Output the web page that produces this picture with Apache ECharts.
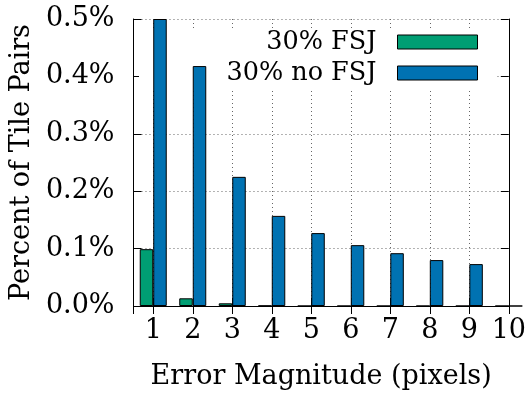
<!DOCTYPE html>
<html>
<head>
<meta charset="utf-8">
<script src="https://cdn.jsdelivr.net/npm/echarts@6/dist/echarts.min.js"></script>
<style>
  html, body { margin: 0; padding: 0; background: #fff; }
  #chart { width: 529px; height: 396px; }
</style>
</head>
<body>
<div id="chart"></div>
<script>
// error magnitude in pixels
const magnitudes = [1, 2, 3, 4, 5, 6, 7, 8, 9, 10];
// percent of tile pairs
const fsj = [0.099, 0.0134, 0.0047, 0.0005, 0, 0, 0, 0, 0, 0];
const noFsj = [0.5, 0.418, 0.225, 0.157, 0.127, 0.106, 0.092, 0.080, 0.073, 0];
const yTicks = [0, 0.1, 0.2, 0.3, 0.4, 0.5];

const FONT = "DejaVu Serif";
const GREEN = "#009e73";
const BLUE = "#0072b2";

const chart = echarts.init(document.getElementById("chart"));

const gridLine = { show: true, lineStyle: { type: [1, 3], color: "#666", width: 1 } };
const tick = { show: true, inside: true, length: 8, lineStyle: { color: "#000" } };

const option = {
  animation: false,
  textStyle: { fontFamily: FONT },
  grid: { left: 131, right: 17, top: 19, bottom: 90 },

  // opaque key background (gnuplot "key opaque")
  graphic: [
    {
      type: "rect",
      z: 1,
      shape: { x: 139, y: 28, width: 356, height: 60 },
      style: { fill: "#fff" },
    },
  ],

  legend: {
    orient: "vertical",
    right: 51,
    top: 29,
    padding: 0,
    itemGap: 5,
    align: "right",
    itemWidth: 80,
    itemHeight: 14,
    icon: "rect",
    textStyle: { fontFamily: FONT, fontSize: 25.5, color: "#000", padding: [0, 16, 0, 0] },
    data: [
      { name: "30% FSJ", itemStyle: { color: GREEN, borderColor: "#000", borderWidth: 1 } },
      { name: "30% no FSJ", itemStyle: { color: BLUE, borderColor: "#000", borderWidth: 1 } },
    ],
  },

  xAxis: [
    {
      type: "value",
      min: 0.5,
      max: 10,
      splitNumber: 10,
      name: "Error Magnitude (pixels)",
      nameLocation: "middle",
      nameGap: 57,
      nameTextStyle: { fontFamily: FONT, fontSize: 27, color: "#000" },
      axisLine: { lineStyle: { color: "#000", width: 1 } },
      axisTick: tick,
      splitLine: gridLine,
      axisLabel: {
        fontFamily: FONT,
        fontSize: 27,
        color: "#000",
        margin: 11,
        showMinLabel: false,
        formatter: (v) => (magnitudes.includes(v) ? String(v) : ""),
      },
    },
    {
      type: "value",
      position: "top",
      min: 0.5,
      max: 10,
      splitNumber: 10,
      axisLine: { lineStyle: { color: "#000", width: 1 } },
      axisTick: tick,
      axisLabel: { show: false },
      splitLine: { show: false },
    },
  ],

  yAxis: [
    {
      type: "value",
      min: yTicks[0],
      max: yTicks[yTicks.length - 1],
      interval: 0.1,
      name: "Percent of Tile Pairs",
      nameLocation: "middle",
      nameGap: 88,
      nameTextStyle: { fontFamily: FONT, fontSize: 27, color: "#000" },
      axisLine: { show: true, lineStyle: { color: "#000", width: 1 } },
      axisTick: tick,
      splitLine: gridLine,
      axisLabel: {
        fontFamily: FONT,
        fontSize: 27,
        color: "#000",
        margin: 19,
        formatter: (v) => v.toFixed(1) + "%",
      },
    },
    {
      type: "value",
      position: "right",
      min: yTicks[0],
      max: yTicks[yTicks.length - 1],
      interval: 0.1,
      axisLine: { show: true, lineStyle: { color: "#000", width: 1 } },
      axisTick: tick,
      axisLabel: { show: false },
      splitLine: { show: false },
    },
  ],

  series: [
    {
      name: "30% FSJ",
      type: "bar",
      z: 3,
      barWidth: 13.5,
      barGap: "0%",
      itemStyle: { color: GREEN, borderColor: "#000", borderWidth: 1 },
      data: magnitudes.map((m, i) => [m, fsj[i]]),
    },
    {
      name: "30% no FSJ",
      type: "bar",
      z: 3,
      barWidth: 13.5,
      barGap: "0%",
      itemStyle: { color: BLUE, borderColor: "#000", borderWidth: 1 },
      data: magnitudes.map((m, i) => [m, noFsj[i]]),
    },
  ],
};

chart.setOption(option);
</script>
</body>
</html>
